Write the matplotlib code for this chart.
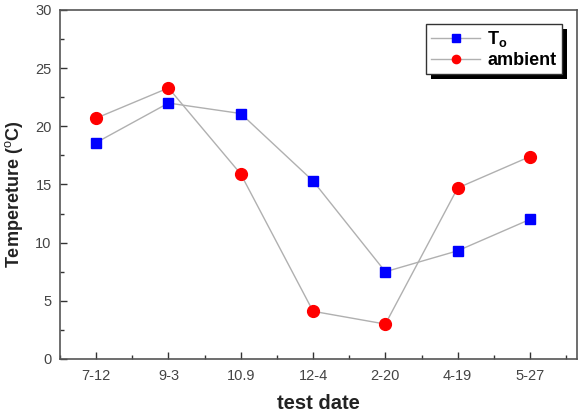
import matplotlib
matplotlib.use("Agg")
import matplotlib.pyplot as plt
from matplotlib.patches import Rectangle
from matplotlib.ticker import MultipleLocator

plt.rcParams['font.family'] = ['Liberation Sans', 'DejaVu Sans']
plt.rcParams['mathtext.fontset'] = 'custom'
plt.rcParams['mathtext.rm'] = 'Liberation Sans'
plt.rcParams['mathtext.bf'] = 'Liberation Sans:bold'

dates = ["7-12", "9-3", "10.9", "12-4", "2-20", "4-19", "5-27"]
t_o = [18.6, 22.0, 21.1, 15.3, 7.5, 9.3, 12.0]
ambient = [20.7, 23.3, 15.9, 4.1, 3.0, 14.7, 17.4]

fig = plt.figure(figsize=(5.86, 4.13), dpi=100)
ax = fig.add_axes([0.1024, 0.1308, 0.8822, 0.845])
x = list(range(len(dates)))

ax.plot(x, t_o, color='#b0b0b0', lw=1.0, marker='s', ms=7.5, mfc='#0000ff',
        mec='#0000ff', label=r'$\mathbf{T_o}$', zorder=3)
ax.plot(x, ambient, color='#b0b0b0', lw=1.0, marker='o', ms=8.5, mfc='#ff0000',
        mec='#ff0000', label='ambient', zorder=3)

ax.set_xlim(-0.5, 6.65)
ax.set_ylim(0, 30)
ax.set_xticks(x)
ax.set_xticklabels(dates)
ax.xaxis.set_minor_locator(MultipleLocator(0.5))
ax.yaxis.set_major_locator(MultipleLocator(5))
ax.yaxis.set_minor_locator(MultipleLocator(2.5))
ax.tick_params(which='both', direction='in', colors='#333333', labelcolor='#444444',
               labelsize=10.5, top=False, right=False)
ax.tick_params(which='major', length=5, width=1)
ax.tick_params(which='minor', length=3, width=1)
ax.tick_params(axis='x', pad=7)
ax.tick_params(axis='y', pad=6)
for s in ax.spines.values():
    s.set_color('#555555')
    s.set_linewidth(1.2)

ax.set_xlabel('test date', fontsize=14.5, fontweight='bold', color='#222222', labelpad=8)
ax.set_ylabel(r'Tempereture ($^{\mathrm{o}}$C)', fontsize=13, fontweight='bold',
              color='#222222')
ax.yaxis.set_label_coords(-0.068, 0.473)

leg = ax.legend(loc='upper right', bbox_to_anchor=(0.971, 0.96), frameon=True,
                fancybox=False, edgecolor='#333333', framealpha=1,
                prop={'weight': 'bold', 'size': 13}, handlelength=2.7,
                borderpad=0.3, labelspacing=0.15, handletextpad=0.4,
                markerscale=0.7, borderaxespad=0)
leg.get_frame().set_linewidth(1.0)
leg.set_zorder(10)

fig.canvas.draw()
bb = leg.get_window_extent().transformed(ax.transAxes.inverted())
off_x = 5 / (ax.bbox.width)
off_y = 5 / (ax.bbox.height)
shadow = Rectangle((bb.x0 + off_x, bb.y0 - off_y), bb.width, bb.height,
                   transform=ax.transAxes, facecolor='black', edgecolor='none', zorder=9)
ax.add_patch(shadow)

fig.savefig('out.png', dpi=100)
